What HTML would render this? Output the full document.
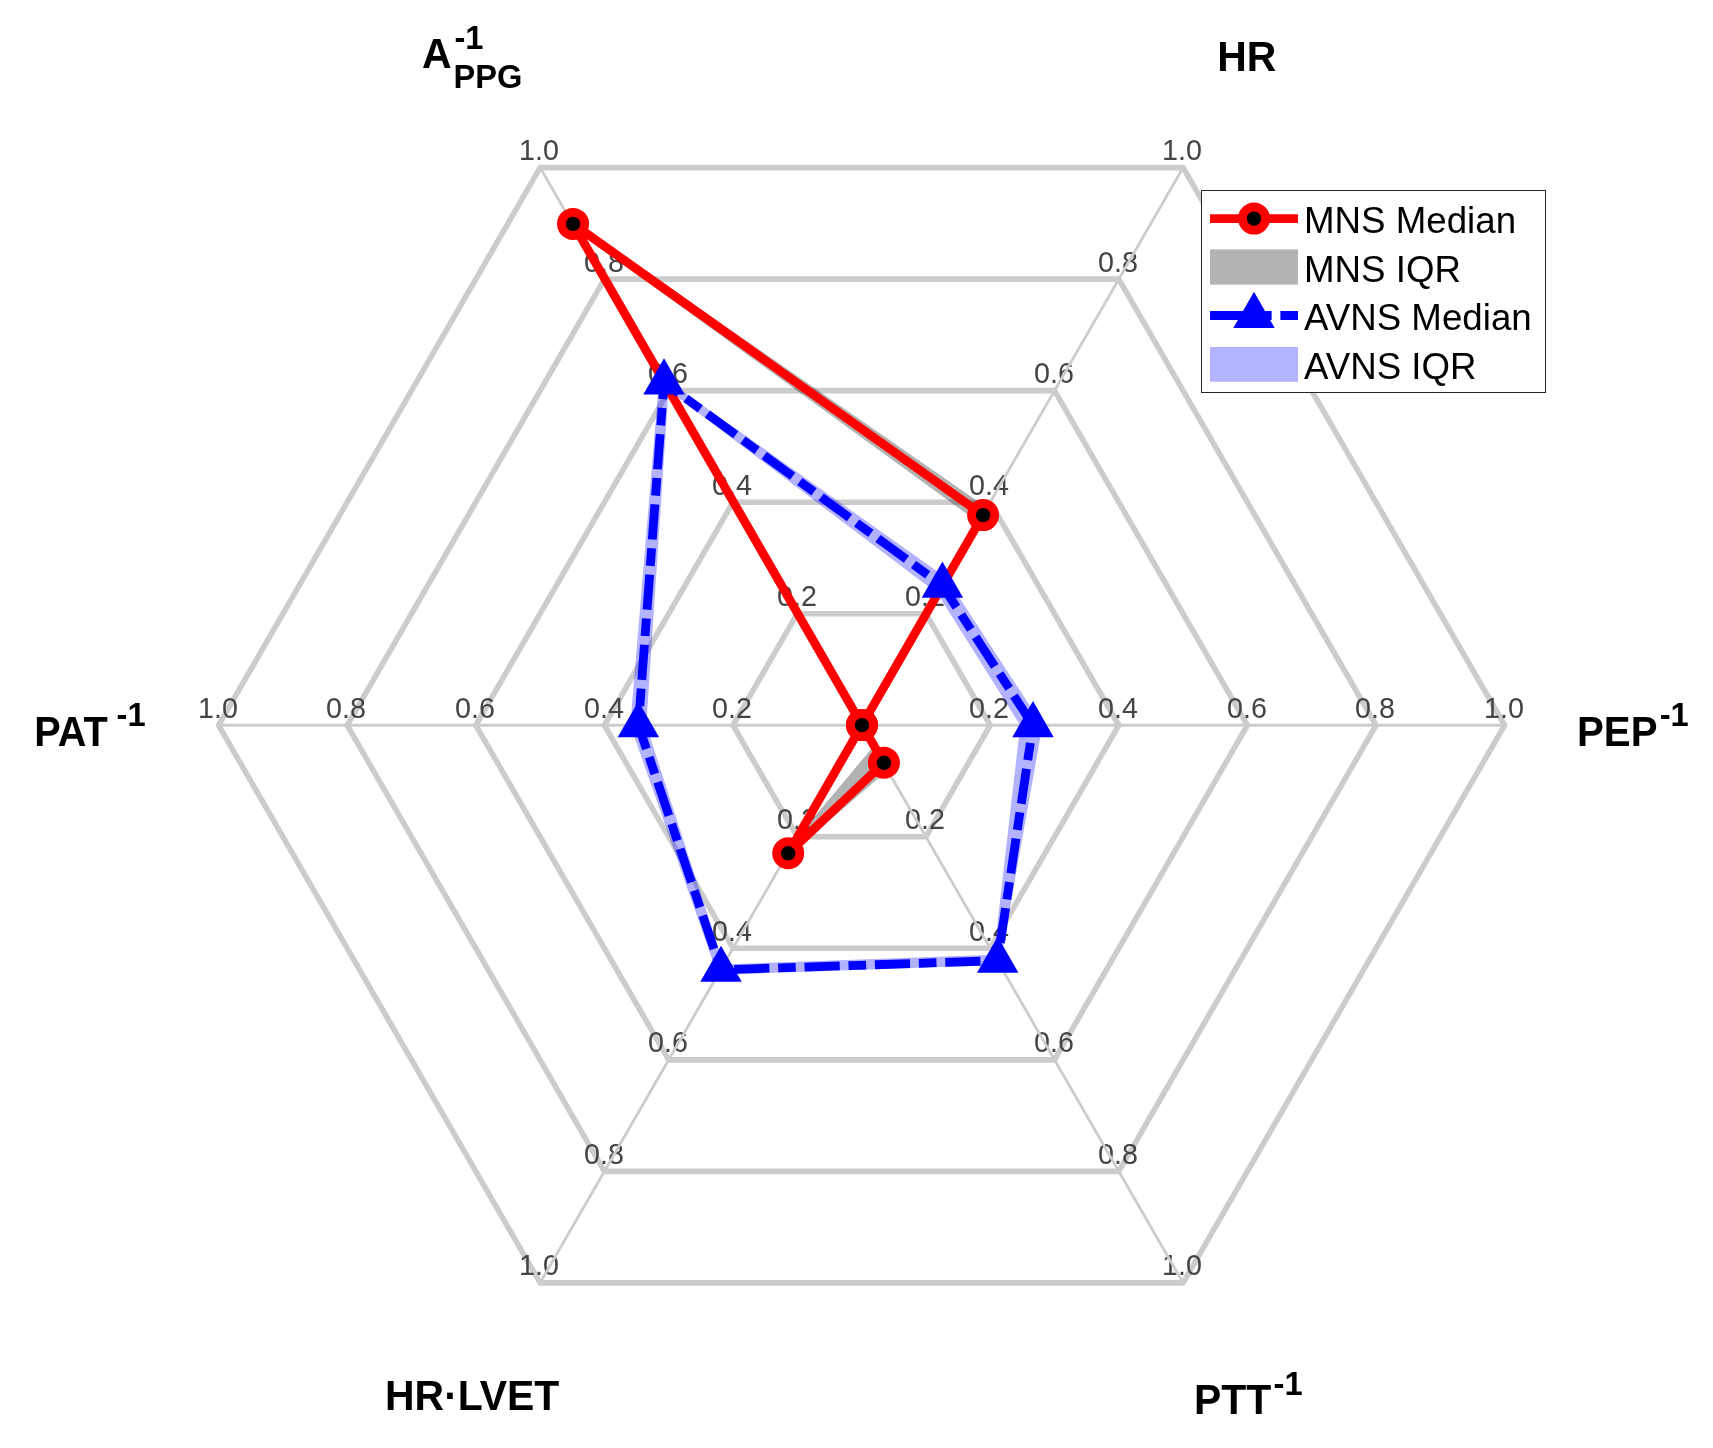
<!DOCTYPE html>
<html lang="en"><head><meta charset="utf-8"><title>Spider plot</title>
<style>
html,body{margin:0;padding:0;background:#fff;}
body{width:1713px;height:1448px;overflow:hidden;}
svg{display:block;will-change:transform;}
text{font-family:"Liberation Sans",sans-serif;}
.tick{font-size:28.7px;fill:#444444;text-anchor:middle;}
.ax{font-size:42px;font-weight:bold;fill:#000;}
.ss{font-size:33.5px;font-weight:bold;fill:#000;}
.lg{font-size:37.6px;fill:#000;}
</style></head><body>
<svg width="1713" height="1448" viewBox="0 0 1713 1448">
<rect width="1713" height="1448" fill="#fff"/>
<g fill="none" stroke="#cccccc" stroke-width="5.6" stroke-linejoin="round">
<polygon points="797.3,613.72 925.9,613.72 990.2,725.25 925.9,836.78 797.3,836.78 733,725.25"/>
<polygon points="733,502.2 990.2,502.2 1118.8,725.25 990.2,948.3 733,948.3 604.4,725.25"/>
<polygon points="668.7,390.67 1054.5,390.67 1247.4,725.25 1054.5,1059.83 668.7,1059.83 475.8,725.25"/>
<polygon points="604.4,279.14 1118.8,279.14 1376,725.25 1118.8,1171.36 604.4,1171.36 347.2,725.25"/>
<polygon points="540.1,167.62 1183.1,167.62 1504.6,725.25 1183.1,1282.88 540.1,1282.88 218.6,725.25"/>
</g>
<g class="tick">
<text x="797" y="606">0.2</text>
<text x="732" y="495">0.4</text>
<text x="668" y="383">0.6</text>
<text x="604" y="272">0.8</text>
<text x="539" y="160">1.0</text>
<text x="925" y="606">0.2</text>
<text x="989" y="495">0.4</text>
<text x="1054" y="383">0.6</text>
<text x="1118" y="272">0.8</text>
<text x="1182" y="160">1.0</text>
<text x="989" y="718">0.2</text>
<text x="1118" y="718">0.4</text>
<text x="1247" y="718">0.6</text>
<text x="1375" y="718">0.8</text>
<text x="1504" y="718">1.0</text>
<text x="925" y="829">0.2</text>
<text x="989" y="941">0.4</text>
<text x="1054" y="1052">0.6</text>
<text x="1118" y="1164">0.8</text>
<text x="1182" y="1275">1.0</text>
<text x="797" y="829">0.2</text>
<text x="732" y="941">0.4</text>
<text x="668" y="1052">0.6</text>
<text x="604" y="1164">0.8</text>
<text x="539" y="1275">1.0</text>
<text x="732" y="718">0.2</text>
<text x="604" y="718">0.4</text>
<text x="475" y="718">0.6</text>
<text x="346" y="718">0.8</text>
<text x="218" y="718">1.0</text>
</g>
<g stroke="#cccccc" stroke-width="2.8">
<line x1="861.6" y1="725.25" x2="540.1" y2="167.62"/>
<line x1="861.6" y1="725.25" x2="1183.1" y2="167.62"/>
<line x1="861.6" y1="725.25" x2="1504.6" y2="725.25"/>
<line x1="861.6" y1="725.25" x2="1183.1" y2="1282.88"/>
<line x1="861.6" y1="725.25" x2="540.1" y2="1282.88"/>
<line x1="861.6" y1="725.25" x2="218.6" y2="725.25"/>
</g>
<path d="M568.83 217.44 L987 507.74 L862.6 725.25 L887.58 770.31 L784.16 859.57 L860.6 725.25 Z M576.32 230.44 L978.51 522.47 L861.6 725.25 L873.59 746.05 L796.15 838.77 L861.6 725.25 Z" fill="#000000" fill-opacity="0.3" fill-rule="evenodd"/>
<path d="M659.51 374.72 L946.53 577.93 L1042.46 725.25 L999.84 965.03 L717.66 974.91 L630.28 725.25 Z M668.5 390.32 L937.54 593.53 L1020.18 725.25 L993.85 954.63 L723.66 964.51 L646.27 725.25 Z" fill="#0000ff" fill-opacity="0.3" fill-rule="evenodd"/>
<polygon points="573.05,223.9 983.1,515.1 862,725.1 883.9,762.8 788.2,853.3 862,725.1" fill="none" stroke="#ff0000" stroke-width="8.8" stroke-linejoin="round"/>
<polyline points="1033,725.2 997.7,960.7 721,969.8 638.4,725.3 664,382.4 942.4,585.6 1033,725.2" fill="none" stroke="#0000ff" stroke-width="8.8" stroke-linejoin="round" stroke-dasharray="35.2 8.8 17.6 8.8" stroke-dashoffset="26.2"/>
<circle cx="573.05" cy="223.9" r="11.6" fill="#000" stroke="#ff0000" stroke-width="8.8"/>
<circle cx="983.1" cy="515.1" r="11.6" fill="#000" stroke="#ff0000" stroke-width="8.8"/>
<circle cx="862" cy="725.1" r="11.6" fill="#000" stroke="#ff0000" stroke-width="8.8"/>
<circle cx="883.9" cy="762.8" r="11.6" fill="#000" stroke="#ff0000" stroke-width="8.8"/>
<circle cx="788.2" cy="853.3" r="11.6" fill="#000" stroke="#ff0000" stroke-width="8.8"/>
<circle cx="862" cy="725.1" r="11.6" fill="#000" stroke="#ff0000" stroke-width="8.8"/>
<polygon points="664,358.27 643.3,394.47 684.7,394.47" fill="#0000ff"/>
<polygon points="942.4,561.47 921.7,597.67 963.1,597.67" fill="#0000ff"/>
<polygon points="1033,701.07 1012.3,737.27 1053.7,737.27" fill="#0000ff"/>
<polygon points="997.7,936.57 977,972.77 1018.4,972.77" fill="#0000ff"/>
<polygon points="721,945.67 700.3,981.87 741.7,981.87" fill="#0000ff"/>
<polygon points="638.4,701.17 617.7,737.37 659.1,737.37" fill="#0000ff"/>
<text class="ax" transform="translate(1217.3 70.9) scale(0.975 1)">HR</text>
<text class="ax" transform="translate(1577 746) scale(0.958 1)">PEP</text>
<text class="ss" transform="translate(1659.7 726) scale(0.975 1)">-1</text>
<text class="ax" transform="translate(1193.9 1414) scale(0.975 1)">PTT</text>
<text class="ss" transform="translate(1273.6 1394.9) scale(0.975 1)">-1</text>
<text class="ax" transform="translate(385 1409.8) scale(0.975 1)">HR·LVET</text>
<text class="ax" transform="translate(34.2 746) scale(0.945 1)">PAT</text>
<text class="ss" transform="translate(116.6 725.8) scale(0.975 1)">-1</text>
<text class="ax" transform="translate(421.9 67.8) scale(0.975 1)">A</text>
<text class="ss" transform="translate(454.5 48.8) scale(0.975 1)">-1</text>
<text class="ss" transform="translate(453.4 88) scale(0.975 1)">PPG</text>
<rect x="1201.5" y="190.5" width="344" height="202" fill="#fff" stroke="#262626" stroke-width="1"/>
<line x1="1210" y1="218.6" x2="1298" y2="218.6" stroke="#ff0000" stroke-width="8.8"/>
<circle cx="1254" cy="218.6" r="11.6" fill="#000" stroke="#ff0000" stroke-width="8.8"/>
<rect x="1210" y="249.4" width="88" height="35.2" fill="#b3b3b3"/>
<line x1="1210" y1="315.5" x2="1298" y2="315.5" stroke="#0000ff" stroke-width="8.8" stroke-dasharray="35.2 8.8 17.6 8.8"/>
<polygon points="1254,291.87 1233.3,328.07 1274.7,328.07" fill="#0000ff"/>
<rect x="1210" y="347" width="88" height="34.8" fill="#b3b3ff"/>
<text class="lg" transform="translate(1304 233) scale(0.976 1)">MNS Median</text>
<text class="lg" transform="translate(1304 281.5) scale(0.976 1)">MNS IQR</text>
<text class="lg" transform="translate(1304 330) scale(0.976 1)">AVNS Median</text>
<text class="lg" transform="translate(1304 378.5) scale(0.976 1)">AVNS IQR</text>
</svg></body></html>
